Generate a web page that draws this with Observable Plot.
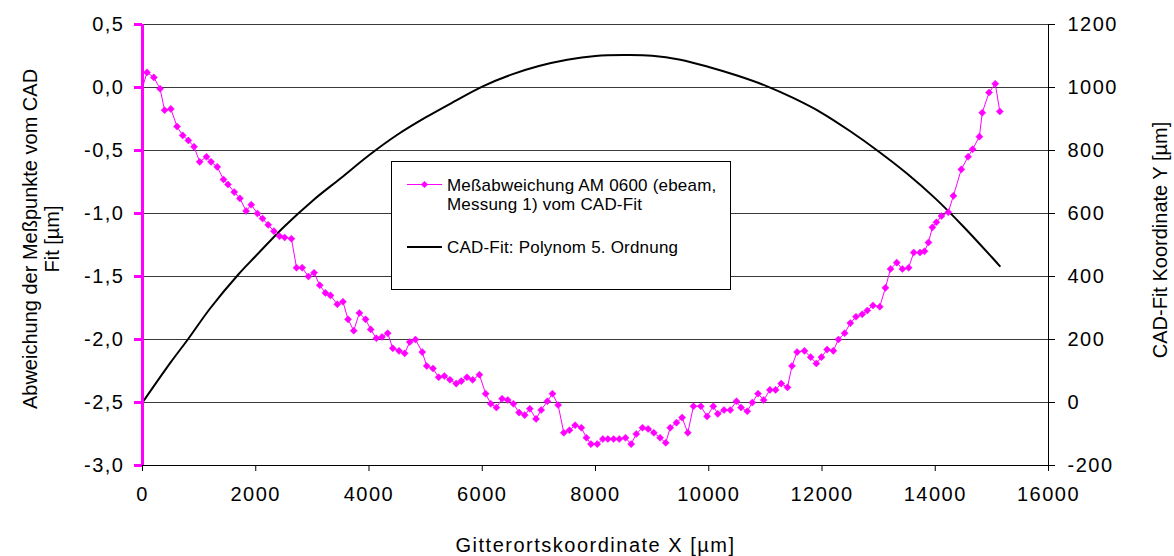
<!DOCTYPE html>
<html>
<head>
<meta charset="utf-8">
<script src="https://cdn.jsdelivr.net/npm/d3@7"></script>
<script src="https://cdn.jsdelivr.net/npm/@observablehq/plot@0.6"></script>
<style>
  html, body { margin: 0; padding: 0; background: #fff; }
</style>
</head>
<body>
<div id="chart"></div>
<script>
// Measured deviation (left axis, µm) vs grating coordinate X (µm)
const xMeas = [
  0, 80, 200, 310, 390, 500, 610, 710, 810, 910,
  1010, 1130, 1210, 1320, 1430, 1510, 1620, 1720, 1830, 1920,
  2030, 2120, 2220, 2320, 2420, 2510, 2630, 2720, 2820, 2930,
  3030, 3130, 3230, 3320, 3440, 3540, 3630, 3730, 3830, 3940,
  4030, 4130, 4230, 4330, 4420, 4530, 4630, 4720, 4820, 4940,
  5020, 5130, 5230, 5330, 5430, 5540, 5630, 5730, 5830, 5950,
  6060, 6150, 6250, 6350, 6450, 6550, 6650, 6750, 6840, 6950,
  7040, 7150, 7240, 7340, 7440, 7540, 7640, 7750, 7840, 7920,
  8030, 8130, 8220, 8320, 8420, 8530, 8630, 8720, 8830, 8930,
  9030, 9140, 9240, 9320, 9430, 9530, 9630, 9730, 9860, 9970,
  10080, 10160, 10270, 10380, 10490, 10570, 10680, 10770, 10870, 10970,
  11080, 11180, 11280, 11390, 11470, 11560, 11690, 11800, 11900, 11990,
  12090, 12200, 12290, 12400, 12500, 12600, 12710, 12800, 12900, 13020,
  13120, 13210, 13320, 13420, 13530, 13620, 13730, 13810, 13880, 13950,
  14020, 14110, 14230, 14320, 14460, 14580, 14660, 14780, 14830, 14950,
  15060, 15140
];
const devMeas = [
  0.00, 0.12, 0.08, -0.01, -0.18, -0.17, -0.31, -0.38, -0.42, -0.47,
  -0.59, -0.55, -0.59, -0.63, -0.73, -0.77, -0.83, -0.88, -0.98, -0.93,
  -1.00, -1.04, -1.09, -1.14, -1.18, -1.19, -1.20, -1.43, -1.43, -1.50,
  -1.47, -1.57, -1.63, -1.65, -1.72, -1.70, -1.84, -1.93, -1.79, -1.84,
  -1.92, -1.99, -1.98, -1.95, -2.07, -2.09, -2.11, -2.02, -2.00, -2.10,
  -2.21, -2.23, -2.30, -2.29, -2.32, -2.35, -2.33, -2.30, -2.32, -2.28,
  -2.43, -2.51, -2.54, -2.47, -2.48, -2.51, -2.58, -2.60, -2.55, -2.63,
  -2.56, -2.49, -2.43, -2.52, -2.74, -2.72, -2.68, -2.70, -2.78, -2.83,
  -2.83, -2.79, -2.79, -2.79, -2.79, -2.78, -2.83, -2.75, -2.70, -2.71,
  -2.74, -2.78, -2.82, -2.70, -2.66, -2.62, -2.74, -2.53, -2.53, -2.61,
  -2.53, -2.59, -2.56, -2.56, -2.49, -2.54, -2.57, -2.50, -2.43, -2.48,
  -2.40, -2.40, -2.35, -2.38, -2.21, -2.10, -2.09, -2.14, -2.19, -2.14,
  -2.08, -2.09, -2.00, -1.95, -1.87, -1.82, -1.80, -1.77, -1.73, -1.74,
  -1.59, -1.44, -1.39, -1.44, -1.43, -1.31, -1.31, -1.30, -1.23, -1.11,
  -1.07, -1.02, -0.99, -0.86, -0.65, -0.55, -0.49, -0.39, -0.20, -0.04,
  0.03, -0.19
];
// CAD fit polynomial (right axis, µm)
const xFit = [0, 500, 800, 1200, 1700, 2000, 2500, 3000, 3500, 4000, 4500, 5000, 5500, 6000, 6500, 7000, 7500,
  8000, 8500, 9000, 9500, 10000, 10500, 11000, 11500, 12000, 12500, 13000, 13500, 14000, 14500, 15000, 15140];
const yFit = [0, 128, 200, 300, 408, 465, 558, 640, 712, 785, 850, 905, 955, 1003, 1040, 1068, 1088,
  1100, 1103, 1101, 1088, 1065, 1038, 1006, 966, 919, 861, 797, 727, 648, 558, 461, 433];

const xTicks = [0, 2000, 4000, 6000, 8000, 10000, 12000, 14000, 16000];
const leftTicks = [-3.0, -2.5, -2.0, -1.5, -1.0, -0.5, 0.0, 0.5];
const rightTicks = [-200, 0, 200, 400, 600, 800, 1000, 1200];

const seriesName1 = ["Meßabweichung AM 0600 (ebeam,", "Messung 1) vom CAD-Fit"];
const seriesName2 = "CAD-Fit: Polynom 5. Ordnung";
const xTitle = "Gitterortskoordinate X [µm]";
const yLeftTitle = "Abweichung der Meßpunkte vom CAD\nFit [µm]";
const yRightTitle = "CAD-Fit Koordinate Y [µm]";

const MAG = "#FF00FF";
// right axis (-200..1200) mapped onto left axis (-3..0.5)
const toLeft = v => -2.5 + v / 400;
const fromLeft = y => Math.round((y + 2.5) * 400);
const fmtLeft = d => d.toFixed(1).replace(".", ",");

const measRows = xMeas.map((x, i) => ({x, y: devMeas[i], i}));
const fitRows = xFit.map((x, i) => ({x, y: toLeft(yFit[i])}));

const FONT = "'Liberation Sans', Arial, Helvetica, sans-serif";

const plot = Plot.plot({
  width: 1174,
  height: 556,
  marginLeft: 142,
  marginRight: 126,
  marginTop: 24,
  marginBottom: 91,
  style: {fontFamily: FONT, fontSize: "20px", background: "white", color: "black"},
  x: {domain: [0, 16000]},
  y: {domain: [-3, 0.5]},
  marks: [
    Plot.ruleY(leftTicks.filter(t => t > -3), {stroke: "#3a3a3a", strokeWidth: 1}),
    Plot.ruleY([-3], {stroke: "black", strokeWidth: 1}),
    Plot.ruleX([16000], {stroke: "black", strokeWidth: 1}),
    Plot.axisX(xTicks, {tickSize: 6, tickPadding: 15, tickFormat: d => String(d), label: null, fontSize: 20}),
    Plot.axisY(rightTicks.map(toLeft), {anchor: "right", tickSize: 6, tickPadding: 13, tickFormat: d => String(fromLeft(d)), label: null, fontSize: 20}),
    Plot.line(fitRows, {x: "x", y: "y", stroke: "black", strokeWidth: 2, curve: "catmull-rom"}),
    Plot.line(measRows, {x: "x", y: "y", stroke: MAG, strokeWidth: 1}),
    Plot.dot(measRows.filter(d => d.i > 0), {x: "x", y: "y", symbol: "diamond2", r: 3.2, fill: MAG, stroke: MAG, strokeWidth: 0.5}),
    Plot.ruleX([0], {stroke: MAG, strokeWidth: 3}),
    Plot.axisY(leftTicks, {anchor: "left", tickSize: 8, tickPadding: 10, tickFormat: fmtLeft, stroke: MAG, strokeWidth: 3, fill: "black", label: null, fontSize: 20}),
    Plot.text([xTitle], {frameAnchor: "bottom", dy: 80, textAnchor: "middle", lineAnchor: "middle", fontSize: 20}),
    Plot.text([yLeftTitle], {frameAnchor: "left", dx: -102, dy: -6, rotate: -90, textAnchor: "middle", lineAnchor: "middle", lineHeight: 1.1, fontSize: 20}),
    Plot.text([yRightTitle], {frameAnchor: "right", dx: 112, dy: -5, rotate: -90, textAnchor: "middle", lineAnchor: "middle", fontSize: 20})
  ]
});

document.getElementById("chart").appendChild(plot);

const svg = d3.select(plot);
// the horizontal texts in the original are slightly wide-set
svg.selectAll('g[aria-label="x-axis tick label"] text, g[aria-label="y-axis tick label"] text')
  .attr("letter-spacing", "1.5px");
svg.selectAll('g[aria-label="text"] text').filter(function() { return this.textContent === xTitle; })
  .attr("letter-spacing", "1.5px");

// Legend box inside the plot area
const lg = svg.append("g").attr("font-family", FONT).attr("font-size", 17)
  .attr("fill", "black").attr("text-anchor", "start").attr("letter-spacing", "0.2px");
lg.append("rect").attr("x", 391.5).attr("y", 161.5).attr("width", 339).attr("height", 128)
  .attr("fill", "white").attr("stroke", "black").attr("stroke-width", 1);
lg.append("line").attr("x1", 407).attr("x2", 442).attr("y1", 184.5).attr("y2", 184.5)
  .attr("stroke", MAG).attr("stroke-width", 1);
lg.append("path").attr("d", d3.symbol(d3.symbolDiamond2, Math.PI * 3.2 * 3.2)())
  .attr("transform", "translate(424.5,184.5)").attr("fill", MAG);
lg.append("text").attr("x", 447).attr("y", 191).text(seriesName1[0]);
lg.append("text").attr("x", 447).attr("y", 210).text(seriesName1[1]);
lg.append("line").attr("x1", 407).attr("x2", 442).attr("y1", 247).attr("y2", 247)
  .attr("stroke", "black").attr("stroke-width", 2);
lg.append("text").attr("x", 447).attr("y", 253).text(seriesName2);
</script>
</body>
</html>
